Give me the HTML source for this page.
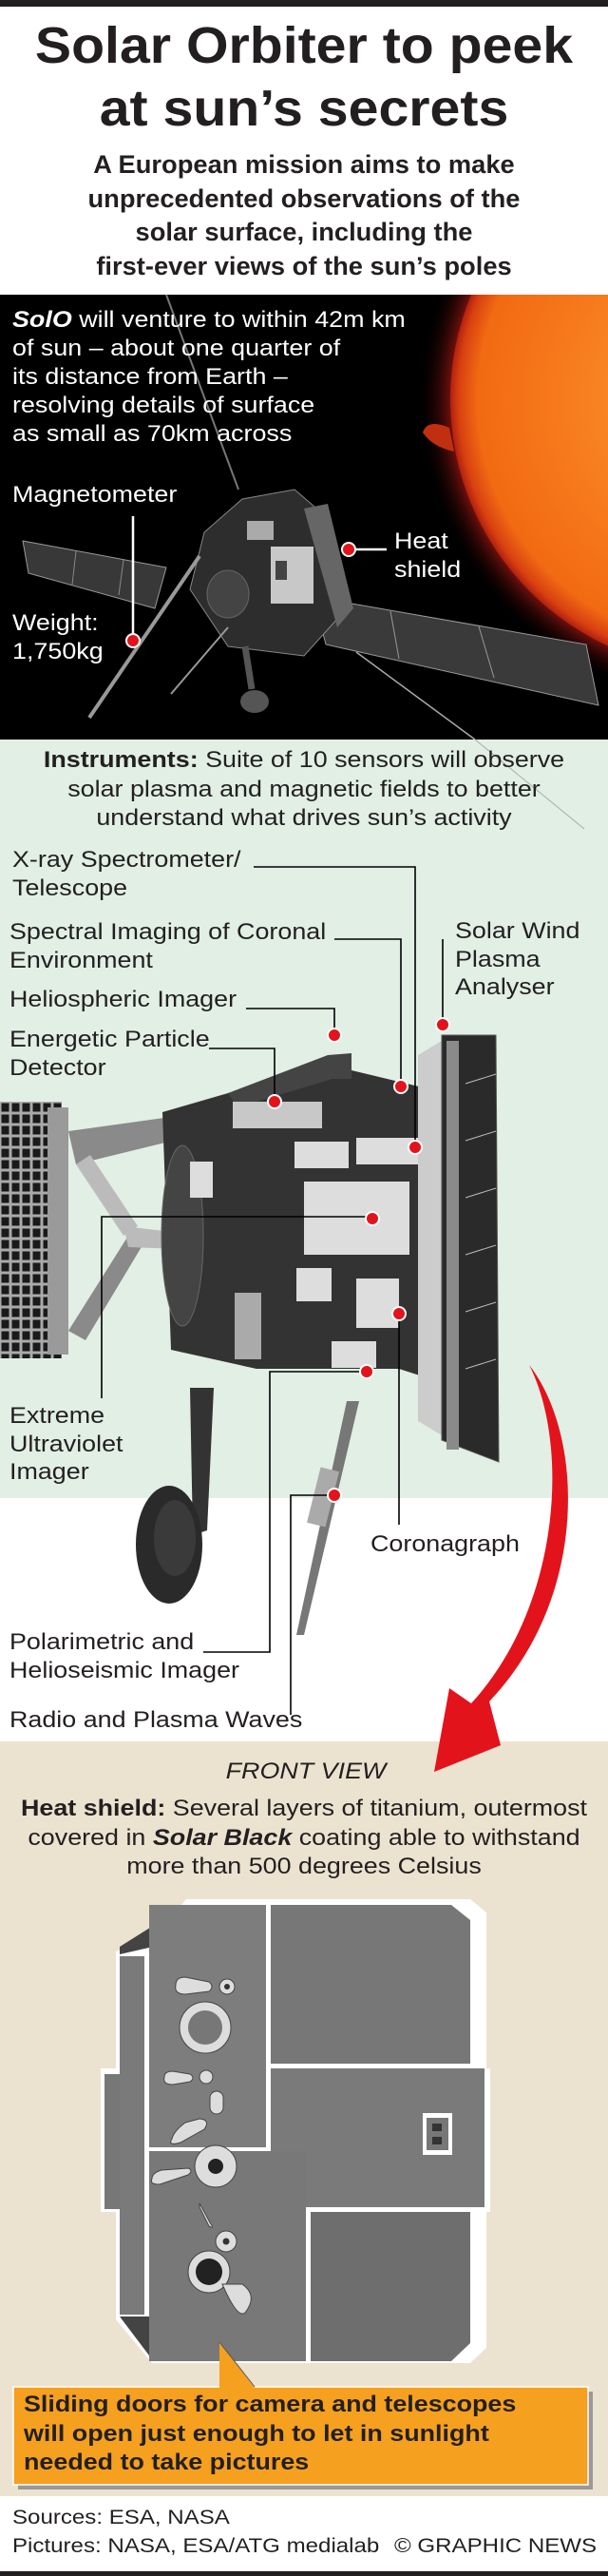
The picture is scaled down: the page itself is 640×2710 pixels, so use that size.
<!DOCTYPE html>
<html><head><meta charset="utf-8"><style>
body{margin:0;width:640px;height:2710px;position:relative;background:#fff;font-family:"Liberation Sans",Arial,sans-serif;overflow:hidden;color:#231f20}
.t{position:absolute;white-space:nowrap}
.l{position:absolute;white-space:nowrap;transform:scaleX(1.12);transform-origin:0 0;font-size:24px;line-height:29.5px}
.c{position:absolute;left:0;width:640px;text-align:center;white-space:nowrap;transform:scaleX(1.12);transform-origin:320px 0}
</style></head><body>
<svg width="640" height="2710" style="position:absolute;left:0;top:0">
<defs>
<radialGradient id="sun" cx="0.5" cy="0.5" r="0.5">
<stop offset="0" stop-color="#ff9a30"/><stop offset="0.9" stop-color="#f26a12"/><stop offset="0.97" stop-color="#d84010"/><stop offset="1" stop-color="#b02010"/>
</radialGradient>
<radialGradient id="glow" cx="0.5" cy="0.5" r="0.5"><stop offset="0.88" stop-color="#8a1410"/><stop offset="1" stop-color="#000" stop-opacity="0"/></radialGradient>
<pattern id="cells" x="0" y="1159" width="11" height="12" patternUnits="userSpaceOnUse"><rect width="11" height="12" fill="#aaa"/><rect x="1.5" y="1.5" width="8" height="9" fill="#1a1a1a"/></pattern>
</defs>
<rect x="0" y="0" width="640" height="7" fill="#231f20"/>
<rect x="0" y="310" width="640" height="468" fill="#000"/>
<svg x="0" y="310" width="640" height="468" overflow="hidden">
<circle cx="760" cy="110" r="320" fill="url(#glow)"/>
<circle cx="760" cy="110" r="286" fill="url(#sun)"/>
<path d="M473,140 Q450,130 445,145 Q455,160 478,165Z" fill="#c03010"/>
</svg>
<!-- spacecraft -->
<line x1="175" y1="310" x2="251" y2="515" stroke="#777" stroke-width="2"/>
<line x1="375" y1="686" x2="500" y2="778" stroke="#aaa" stroke-width="1.5"/>
<polygon points="24,569 175,597 163,640 30,603" fill="#383838" stroke="#999" stroke-width="1"/>
<line x1="80" y1="580" x2="76" y2="615" stroke="#888"/><line x1="130" y1="589" x2="125" y2="626" stroke="#888"/>
<polygon points="330,628 617,678 630,742 343,678" fill="#3a3a3a" stroke="#999" stroke-width="1"/>
<line x1="411" y1="643" x2="420" y2="693" stroke="#999"/><line x1="504" y1="659" x2="520" y2="713" stroke="#999"/>
<polygon points="215,560 255,525 310,515 345,545 365,640 320,690 240,680 200,620" fill="#2d2d2d" stroke="#888"/>
<polygon points="320,535 345,530 372,640 355,660" fill="#666"/>
<rect x="285" y="575" width="45" height="60" fill="#c8c8c8"/>
<rect x="290" y="590" width="12" height="20" fill="#444"/>
<rect x="260" y="548" width="28" height="20" fill="#aaa"/>
<ellipse cx="240" cy="625" rx="22" ry="25" fill="#444" stroke="#666"/>
<line x1="210" y1="585" x2="94" y2="755" stroke="#999" stroke-width="4"/>
<line x1="240" y1="660" x2="180" y2="730" stroke="#999" stroke-width="2"/>
<path d="M258,680 L265,725" stroke="#555" stroke-width="7"/>
<ellipse cx="268" cy="738" rx="15" ry="12" fill="#555"/>
<line x1="140" y1="543" x2="140" y2="670" stroke="#fff" stroke-width="2.5"/>
<circle cx="140" cy="674" r="7" fill="#e3131b" stroke="#fff" stroke-width="2"/>
<line x1="370" y1="578" x2="407" y2="578" stroke="#fff" stroke-width="2.5"/>
<circle cx="367" cy="578" r="7" fill="#e3131b" stroke="#fff" stroke-width="2"/>
<!-- instruments section -->
<rect x="0" y="778" width="640" height="798" fill="#e1efe5"/>
<rect x="0" y="1832" width="640" height="794" fill="#ebe3cf"/>
<line x1="500" y1="778" x2="615" y2="872" stroke="#aaa" stroke-width="1"/>
<!-- left solar panel -->
<rect x="0" y="1159" width="65" height="270" fill="url(#cells)"/>
<rect x="50" y="1165" width="22" height="260" fill="#9a9a9a"/>
<polygon points="72,1190 180,1175 182,1200 80,1225" fill="#8a8a8a"/>
<polygon points="80,1225 130,1300 145,1290 95,1215" fill="#bbb"/>
<polygon points="72,1400 135,1300 150,1310 90,1410" fill="#8a8a8a"/>
<polygon points="130,1290 215,1300 215,1315 135,1312" fill="#bbb"/>
<!-- body -->
<polygon points="171,1170 240,1150 345,1120 470,1150 482,1460 420,1440 270,1440 180,1420" fill="#333"/>
<ellipse cx="192" cy="1300" rx="22" ry="95" fill="#444" stroke="#666"/>
<polygon points="240,1150 345,1110 370,1108 370,1135 350,1135 250,1165" fill="#444"/>
<rect x="245" y="1159" width="94" height="28" fill="#c8c8c8"/>
<rect x="310" y="1201" width="57" height="28" fill="#ddd"/>
<rect x="375" y="1197" width="78" height="28" fill="#ddd"/>
<rect x="320" y="1243" width="111" height="77" fill="#ddd"/>
<rect x="312" y="1334" width="37" height="35" fill="#ddd"/>
<rect x="375" y="1345" width="45" height="52" fill="#ddd"/>
<rect x="349" y="1411" width="47" height="28" fill="#ddd"/>
<rect x="200" y="1222" width="24" height="38" fill="#ddd"/>
<rect x="247" y="1360" width="28" height="70" fill="#aaa"/>
<!-- heat shield side -->
<polygon points="440,1110 465,1095 465,1510 440,1495" fill="#ccc"/>
<polygon points="465,1089 522,1089 525,1538 465,1515" fill="#2a2a2a" stroke="#555"/>
<rect x="470" y="1095" width="13" height="430" fill="#8a8a8a"/>
<g stroke="#bbb" stroke-width="1"><line x1="490" y1="1140" x2="522" y2="1130"/><line x1="490" y1="1200" x2="522" y2="1190"/><line x1="490" y1="1260" x2="522" y2="1250"/><line x1="490" y1="1320" x2="522" y2="1310"/><line x1="490" y1="1380" x2="522" y2="1370"/><line x1="490" y1="1440" x2="522" y2="1430"/></g>
<!-- leg & dish -->
<polygon points="200,1460 225,1460 218,1610 203,1615" fill="#333"/>
<ellipse cx="178" cy="1625" rx="35" ry="62" fill="#2a2a2a"/>
<ellipse cx="184" cy="1618" rx="22" ry="40" fill="#3a3a3a"/>
<polygon points="378,1474 365,1474 312,1720 320,1720" fill="#777"/>
<rect x="330" y="1545" width="20" height="60" fill="#aaa" transform="rotate(14 340 1575)"/>
<!-- leaders -->
<g fill="none" stroke="#000" stroke-width="1.6">
<polyline points="267,912 437,912 437,1203"/>
<polyline points="352,988 422,988 422,1140"/>
<polyline points="259,1061 352,1061 352,1086"/>
<polyline points="220,1103 289,1103 289,1156"/>
<polyline points="466,988 466,1075"/>
<polyline points="107,1471 107,1280 390,1280"/>
<polyline points="420,1604 420,1384"/>
<polyline points="214,1738 284,1738 284,1443 384,1443"/>
<polyline points="306,1804 306,1573 350,1573"/>
</g>
<g fill="#e3131b" stroke="#fff" stroke-width="2">
<circle cx="437" cy="1207" r="7"/><circle cx="422" cy="1143" r="7"/><circle cx="352" cy="1089" r="7"/><circle cx="289" cy="1159" r="7"/><circle cx="466" cy="1078" r="7"/><circle cx="392" cy="1282" r="7"/><circle cx="420" cy="1382" r="7"/><circle cx="386" cy="1443" r="7"/><circle cx="352" cy="1573" r="7"/>
</g>
<!-- red arrow -->
<path d="M557,1436 C615,1510 620,1680 515,1790 L527,1836 L457,1864 L473,1776 L496,1792 C590,1690 600,1520 557,1436 Z" fill="#e3131b"/>
<!-- front view shield -->
<g>
<polygon points="122,2053 160,2040 196,1998 495,1998 512,2012 512,2176 516,2176 516,2327 512,2327 512,2470 495,2486 160,2486 122,2440 122,2327 106,2327 106,2176 122,2176" fill="#fff"/>
<polygon points="126,2048 196,2004 196,2040 126,2056" fill="#444"/>
<polygon points="126,2437 187,2437 187,2482 160,2482" fill="#444"/>
<rect x="126" y="2058" width="26" height="377" fill="#7a7a7a"/>
<rect x="110" y="2182" width="16" height="142" fill="#777"/>
<rect x="157" y="2004" width="123" height="255" fill="#7d7d7d"/>
<polygon points="285,2004 475,2004 495,2020 495,2171 285,2171" fill="#777"/>
<rect x="285" y="2176" width="225" height="146" fill="#7a7a7a"/>
<rect x="157" y="2263" width="165" height="221" fill="#787878"/>
<rect x="189" y="2437" width="130" height="47" fill="#787878"/>
<polygon points="327,2327 495,2327 495,2465 475,2484 327,2484" fill="#6e6e6e"/>
<rect x="445" y="2223" width="31" height="44" fill="#fff"/><rect x="449" y="2228" width="23" height="34" fill="#777"/>
<rect x="455" y="2234" width="10" height="8" fill="#333"/><rect x="455" y="2248" width="10" height="8" fill="#333"/>
<g fill="#ddd" stroke="#444" stroke-width="1">
<path d="M185,2088 Q183,2098 195,2098 L220,2095 Q226,2090 220,2085 L195,2080 Q185,2080 185,2088Z"/>
<circle cx="239" cy="2090" r="8"/>
<circle cx="216" cy="2133" r="27"/>
<path d="M173,2185 Q171,2193 182,2193 L200,2190 Q206,2186 200,2182 L182,2179 Q173,2179 173,2185Z"/>
<circle cx="217" cy="2185" r="7"/>
<rect x="221" y="2200" width="14" height="24" rx="7"/>
<path d="M181,2250 Q176,2258 190,2254 L215,2240 Q222,2230 210,2229 L195,2233 Q183,2242 181,2250Z"/>
<circle cx="227" cy="2279" r="22"/>
<path d="M160,2292 Q157,2298 168,2298 L198,2288 Q204,2283 198,2281 L170,2283 Q160,2286 160,2292Z"/>
<path d="M210,2318 L222,2340 Q226,2345 220,2342 L210,2322Z"/>
<circle cx="238" cy="2358" r="11"/>
<circle cx="220" cy="2390" r="22"/>
<path d="M234,2403 Q250,2440 258,2433 Q272,2415 255,2403Z"/>
</g>
<circle cx="216" cy="2133" r="18" fill="#777"/>
<circle cx="227" cy="2279" r="8" fill="#222"/>
<circle cx="220" cy="2390" r="14" fill="#222"/>
<circle cx="239" cy="2090" r="3" fill="#333"/><circle cx="238" cy="2358" r="3.5" fill="#333"/>
</g>
<!-- orange box -->
<rect x="19" y="2516" width="605" height="103" fill="#999"/>
<rect x="14" y="2511" width="605" height="103" fill="#f5a01e" stroke="#fff" stroke-width="1.5"/>
<polygon points="231,2464 268,2512 231,2512" fill="#f5a01e"/>
<line x1="231" y1="2464" x2="268" y2="2511" stroke="#555" stroke-width="1"/>
<rect x="0" y="2705" width="640" height="5" fill="#231f20"/>
</svg>

<div class="t" style="left:0;width:640px;text-align:center;top:15px;font-size:54px;font-weight:bold;line-height:66px;transform:scaleX(1.06);transform-origin:320px 0">Solar Orbiter to peek<br>at sun’s secrets</div>
<div class="t" style="left:0;width:640px;text-align:center;top:156px;font-size:26.5px;font-weight:bold;line-height:35.5px;transform:scaleX(1.03);transform-origin:320px 0">A European mission aims to make<br>unprecedented observations of the<br>solar surface, including the<br>first-ever views of the sun’s poles</div>
<div class="l" style="left:13px;top:322px;line-height:30px;color:#fff"><b><i>SolO</i></b> will venture to within 42m km<br>of sun – about one quarter of<br>its distance from Earth –<br>resolving details of surface<br>as small as 70km across</div>
<div class="l" style="left:13px;top:506px;line-height:30px;color:#fff">Magnetometer</div>
<div class="l" style="left:415px;top:555px;line-height:30px;color:#fff">Heat<br>shield</div>
<div class="l" style="left:13px;top:641px;line-height:30px;color:#fff">Weight:<br>1,750kg</div>

<div class="c" style="top:785px;font-size:24px;line-height:30.5px"><b>Instruments:</b> Suite of 10 sensors will observe<br>solar plasma and magnetic fields to better<br>understand what drives sun’s activity</div>
<div class="l" style="left:13px;top:890px">X-ray Spectrometer/<br>Telescope</div>
<div class="l" style="left:10px;top:966px">Spectral Imaging of Coronal<br>Environment</div>
<div class="l" style="left:10px;top:1037px">Heliospheric Imager</div>
<div class="l" style="left:10px;top:1079px">Energetic Particle<br>Detector</div>
<div class="l" style="left:479px;top:965px">Solar Wind<br>Plasma<br>Analyser</div>
<div class="l" style="left:10px;top:1475px">Extreme<br>Ultraviolet<br>Imager</div>
<div class="l" style="left:390px;top:1610px">Coronagraph</div>
<div class="l" style="left:10px;top:1713px">Polarimetric and<br>Helioseismic Imager</div>
<div class="l" style="left:10px;top:1795px">Radio and Plasma Waves</div>

<div class="c" style="top:1849px;font-size:24px;line-height:30px;font-style:italic;left:2px">FRONT VIEW</div>
<div class="c" style="top:1888px;font-size:24px;line-height:30.5px"><b>Heat shield:</b> Several layers of titanium, outermost<br>covered in <b><i>Solar Black</i></b> coating able to withstand<br>more than 500 degrees Celsius</div>
<div class="l" style="left:25px;top:2515px;font-weight:bold;line-height:30.5px">Sliding doors for camera and telescopes<br>will open just enough to let in sunlight<br>needed to take pictures</div>
<div class="l" style="left:13px;top:2633px;font-size:21.5px;line-height:30px">Sources: ESA, NASA<br>Pictures: NASA, ESA/ATG medialab</div>
<div class="l" style="left:415px;top:2663px;font-size:21.5px;line-height:30px">© GRAPHIC NEWS</div>
</body></html>
